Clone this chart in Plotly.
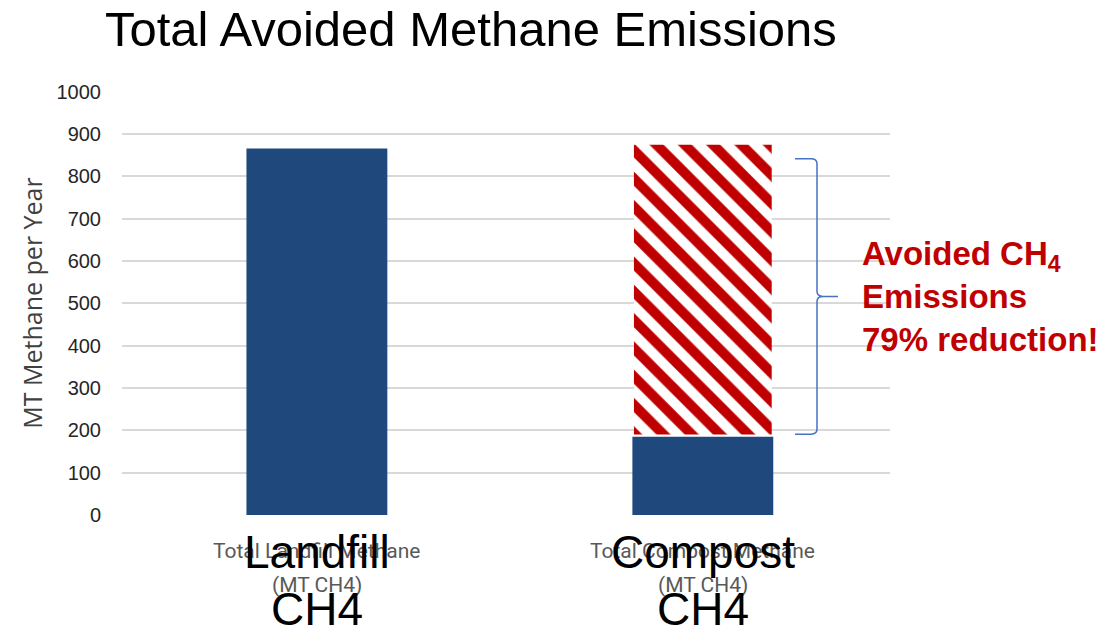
import plotly.graph_objects as go

# ---- data ----
categories = ["Landfill", "Compost"]
label_main_line1 = ["Landfill", "Compost"]
label_main_line2 = ["CH4", "CH4"]
label_sub_line1 = ["Total Landfill Methane", "Total Compost Methane"]
label_sub_line2 = ["(MT CH4)", "(MT CH4)"]
total_methane = [866, 185]          # MT methane per year
avoided_base = [190]                # hatched (avoided) segment on Compost
avoided_top = [875]
bracket_span = [191, 842]           # y-extent of the curly bracket
y_ticks = list(range(0, 1001, 100))

NAVY = "#1F497D"
RED = "#C00000"
BLUE = "#4472C4"

# page body has an 8px default margin -> figure drawn from (8, 8)
OFF = 8
FIG_W, FIG_H = 1117 - 2 * OFF, 633 - 2 * OFF
PLOT_L, PLOT_R, PLOT_T, PLOT_B = 122 - OFF, 890 - OFF, 91 - OFF, 515 - OFF

fig = go.Figure()
fig.add_trace(go.Bar(
    x=categories, y=total_methane, width=0.365,
    marker=dict(color=NAVY, line=dict(width=0)),
    hoverinfo="skip", showlegend=False,
))
fig.add_trace(go.Bar(
    x=[categories[1]], y=[avoided_top[0] - avoided_base[0]], base=avoided_base,
    width=0.357,
    marker=dict(color="white", line=dict(width=0),
                pattern=dict(shape="\\", fgcolor=RED, bgcolor="white", fgopacity=1,
                             size=20, solidity=0.5, fillmode="overlay")),
    hoverinfo="skip", showlegend=False,
))

annotations = []
for i, cat in enumerate(categories):
    for txt, center_px, size, color, fam in [
        (label_sub_line1[i], 551, 21, "#595959", "Roboto, sans-serif"),
        (label_sub_line2[i], 585, 21, "#595959", "Roboto, sans-serif"),
        (label_main_line1[i], 552, 46, "black", "Liberation Sans, Arial, sans-serif"),
        (label_main_line2[i], 609, 46, "black", "Liberation Sans, Arial, sans-serif"),
    ]:
        annotations.append(dict(
            x=cat, xref="x", y=0, yref="y", yshift=-(center_px - 515),
            yanchor="middle", xanchor="center", showarrow=False, text=txt,
            font=dict(size=size, color=color, family=fam),
        ))

y_mid = (bracket_span[0] + bracket_span[1]) / 2
plot_w = PLOT_R - PLOT_L
annotations.append(dict(
    x=(860 - 122) / plot_w, xref="paper", y=y_mid, yref="y", xanchor="left", yanchor="middle",
    align="left", showarrow=False,
    text="<b>Avoided CH<sub>4</sub><br>Emissions<br>79% reduction!</b>",
    font=dict(size=33, color=RED, family="Liberation Sans, Arial, sans-serif"),
))

# curly bracket (paper x, data y)
x0, x1, x2 = (795 - 122) / plot_w, (817 - 122) / plot_w, (838 - 122) / plot_w
d = 6 / plot_w
r = 12
yb, yt = bracket_span
path = (
    f"M {x0},{yt} L {x1-d},{yt} Q {x1},{yt} {x1},{yt-r} "
    f"L {x1},{y_mid+r} Q {x1},{y_mid} {x1+d},{y_mid} L {x2},{y_mid} "
    f"M {x1+d},{y_mid} Q {x1},{y_mid} {x1},{y_mid-r} "
    f"L {x1},{yb+r} Q {x1},{yb} {x1-d},{yb} L {x0},{yb}"
)
shapes = [dict(type="path", xref="paper", yref="y", path=path,
               line=dict(color=BLUE, width=1.5))]

fig.update_layout(
    width=FIG_W, height=FIG_H,
    margin=dict(l=PLOT_L, r=FIG_W - PLOT_R, t=PLOT_T, b=FIG_H - PLOT_B, autoexpand=False),
    paper_bgcolor="white", plot_bgcolor="white",
    barmode="overlay",
    title=dict(text="Total Avoided Methane Emissions", xref="container", yref="container",
               x=(105 - OFF) / FIG_W, xanchor="left", y=1 - (29 - OFF) / FIG_H, yanchor="middle",
               font=dict(size=49, color="black", family="Liberation Sans, Arial, sans-serif")),
    xaxis=dict(categoryorder="array", categoryarray=categories, range=[-0.505, 1.485],
               showticklabels=False, showgrid=False, zeroline=False, showline=False, ticks=""),
    yaxis=dict(range=[0, 1002], tickvals=y_ticks, showgrid=True, gridcolor="#D9D9D9",
               gridwidth=1.5, zeroline=False, showline=False, ticks="",
               ticklabelstandoff=20,
               tickfont=dict(size=20, color="#262626", family="Liberation Sans, Arial, sans-serif"),
               title=dict(text="MT Methane per Year", standoff=6,
                          font=dict(size=25, color="#404040", family="Open Sans, sans-serif"))),
    annotations=annotations,
    shapes=shapes,
)

fig.write_html("out.html")
